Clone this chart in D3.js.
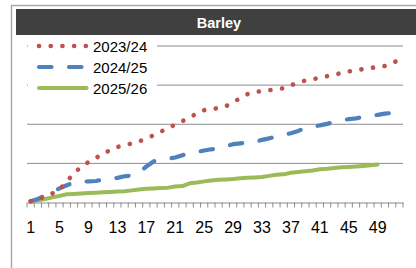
<!DOCTYPE html>
<html>
<head>
<meta charset="utf-8">
<script src="https://cdn.jsdelivr.net/npm/d3@7"></script>
<style>
  body { margin: 0; background: #fff; }
  svg { display: block; font-family: "Liberation Sans", Arial, sans-serif; }
</style>
</head>
<body>
<div id="chartdiv"></div>
<script>
//barley chart - cumulative weekly values by marketing year
(function(){

  //pseudo-global data
  var weeks = d3.range(1, 53); //week numbers 1..52
  var tickLabels = [1, 5, 9, 13, 17, 21, 25, 29, 33, 37, 41, 45, 49];
  var seriesNames = ["2023/24", "2024/25", "2025/26"];

  var values2324 = [30, 80, 150, 230, 330, 540, 740, 920, 1030, 1130,
    1260, 1330, 1420, 1460, 1510, 1560, 1630, 1720, 1810, 1900,
    1990, 2080, 2180, 2270, 2360, 2380, 2420, 2460, 2560, 2670,
    2770, 2820, 2850, 2870, 2900, 2920, 3000, 3050, 3120, 3150,
    3190, 3230, 3270, 3310, 3350, 3380, 3410, 3440, 3460, 3490,
    3560, 3650];

  var values2425 = [30, 90, 180, 270, 360, 440, 510, 530, 540, 550,
    580, 600, 630, 670, 690, 770, 920, 1050, 1090, 1120,
    1150, 1210, 1260, 1290, 1330, 1360, 1380, 1440, 1490, 1510,
    1530, 1550, 1600, 1640, 1690, 1730, 1770, 1830, 1900, 1940,
    1970, 2010, 2060, 2100, 2130, 2150, 2190, 2220, 2240, 2270,
    2290, 2320];

  var values2526 = [30, 60, 90, 130, 170, 210, 220, 230, 240, 250,
    260, 270, 280, 290, 310, 330, 350, 360, 370, 380,
    410, 420, 490, 510, 540, 560, 580, 590, 600, 620,
    630, 640, 650, 680, 710, 720, 760, 780, 800, 820,
    850, 860, 880, 900, 910, 920, 930, 950, 970];

  var gridValues = [1000, 2000, 3000, 4000];

  var width = 416, height = 268;

  var svg = d3.select("#chartdiv")
      .append("svg")
      .attr("width", width)
      .attr("height", height);

  //outer frame
  svg.append("rect")
      .attr("x", 11.5)
      .attr("y", 5.5)
      .attr("width", 412)
      .attr("height", 300)
      .attr("fill", "#fff")
      .attr("stroke", "#a6a6a6")
      .attr("stroke-width", 1.4);

  //title bar
  svg.append("rect")
      .attr("x", 16)
      .attr("y", 9)
      .attr("width", 400)
      .attr("height", 26)
      .attr("fill", "#404040");

  svg.append("text")
      .attr("x", 219)
      .attr("y", 27.5)
      .attr("text-anchor", "middle")
      .attr("fill", "#fff")
      .attr("font-weight", "bold")
      .attr("font-size", "14.5px")
      .text("Barley");

  //scales
  var x = d3.scaleBand()
      .domain(weeks)
      .range([27, 403])
      .padding(0);

  var y = d3.scaleLinear()
      .domain([0, 4000])
      .range([202.5, 46]);

  function cx(w){ return x(w) + x.bandwidth() / 2; }

  //gridlines
  svg.selectAll(".grid")
      .data(gridValues)
      .enter()
      .append("line")
      .attr("class", "grid")
      .attr("x1", 27)
      .attr("x2", 403)
      .attr("y1", function(d){ return y(d); })
      .attr("y2", function(d){ return y(d); })
      .attr("stroke", "#8c8c8c")
      .attr("stroke-width", 1);

  //category axis with labels every 4 weeks
  var xAxis = svg.append("g")
      .attr("transform", "translate(0," + y(0) + ")")
      .call(d3.axisBottom(x).tickValues(tickLabels).tickSize(0).tickPadding(19));
  xAxis.select(".domain").attr("stroke", "#8c8c8c").attr("stroke-width", 1.2);
  xAxis.selectAll("text")
      .attr("font-family", "Liberation Sans, Arial, sans-serif")
      .attr("font-size", "16px")
      .attr("fill", "#000");

  //tick marks between categories
  var boundaries = weeks.map(function(w){ return x(w); }).concat([x.range()[1]]);
  svg.selectAll(".xtick")
      .data(boundaries)
      .enter()
      .append("line")
      .attr("class", "xtick")
      .attr("x1", function(d){ return d; })
      .attr("x2", function(d){ return d; })
      .attr("y1", y(0))
      .attr("y2", y(0) + 5)
      .attr("stroke", "#8c8c8c")
      .attr("stroke-width", 1);

  var line = d3.line()
      .x(function(d, i){ return cx(weeks[i]); })
      .y(function(d){ return y(d); });

  var styles = [
    {color: "#c0504d", width: 4.6, dash: "0.1 11.6"},
    {color: "#4f81bd", width: 4.2, dash: "12.5 17.5"},
    {color: "#9bbb59", width: 4, dash: null}
  ];
  var seriesData = [values2324, values2425, values2526];

  //draw green first so the dotted and dashed sit on top
  [2, 1, 0].forEach(function(k){
    svg.append("path")
        .datum(seriesData[k])
        .attr("d", line)
        .attr("fill", "none")
        .attr("stroke", styles[k].color)
        .attr("stroke-width", styles[k].width)
        .attr("stroke-linecap", "round")
        .attr("stroke-linejoin", "round")
        .attr("stroke-dasharray", styles[k].dash);
  });

  //legend with white background (covers gridlines)
  var legend = svg.append("g");
  legend.append("rect")
      .attr("x", 28)
      .attr("y", 36)
      .attr("width", 129)
      .attr("height", 62)
      .attr("fill", "#fff");

  var rowY = [46, 67, 88];
  seriesNames.forEach(function(name, k){
    legend.append("line")
        .attr("x1", 39)
        .attr("x2", k == 1 ? 82 : 86.5)
        .attr("y1", rowY[k])
        .attr("y2", rowY[k])
        .attr("stroke", styles[k].color)
        .attr("stroke-width", styles[k].width)
        .attr("stroke-linecap", "round")
        .attr("stroke-dasharray", styles[k].dash);
    legend.append("text")
        .attr("x", 93)
        .attr("y", rowY[k] + 5.5)
        .attr("font-size", "15px")
        .attr("fill", "#000")
        .text(name);
  });

})();
</script>
</body>
</html>
